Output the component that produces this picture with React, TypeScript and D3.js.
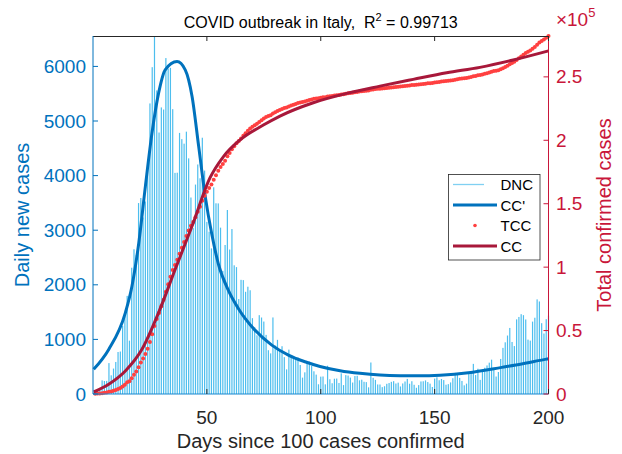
import React from "react";
import * as d3 from "d3";

// Daily new cases, day 1 .. day 200
const DNC: number[] = [
  72, 93, 78, 250, 238, 240,
  566, 342, 466, 587, 769, 778, 1247, 1492, 1797, 977, 2313, 2651, 2547, 3497, 3590, 3233, 3526, 4207, 5322, 5986, 6557, 5560, 4789, 5249, 5210, 6153, 5959, 5974, 5217, 4050, 4053,
  4782, 4668, 4585, 4805, 4316, 3599, 3039, 3836, 4204, 3951, 4694, 4092, 3153, 2972, 2667, 3786, 3493, 3491, 3047, 2256, 2729, 3370, 2646, 3021, 2357, 2324, 1739, 2091, 2086, 1872,
  1965, 1900, 1389, 1221, 1075, 1444, 1401, 1327, 1083, 802, 744, 1402, 888, 992, 789, 875, 675, 451, 813, 665, 642, 652, 669, 531, 300, 397, 584, 593, 516, 416, 355,
  178, 318, 321, 177, 518, 270, 197, 280, 283, 202, 379, 163, 346, 338, 301, 210, 329, 333, 251, 262, 224, 218, 122, 577, 296, 259, 175, 174, 126, 142,
  187, 201, 223, 235, 192, 208, 138, 193, 229, 276, 188, 234, 169, 114, 163, 230, 233, 249, 219, 190, 129, 282, 306, 252, 275, 255, 170, 181, 212, 289, 386,
  379, 295, 239, 159, 190, 384, 402, 552, 347, 463, 259, 412, 481, 523, 574, 629, 479, 320, 403, 642, 845, 947, 1071, 1210, 953, 878, 1367, 1411, 1462, 1444, 1365,
  996, 978, 1326, 1397, 1733, 1695, 1297, 1108, 1370, 1434,
];
// Total confirmed before day 1
const START_TOTAL = 157;

// Fitted derivative curve CC' (daily)
const CCP_DAYS = [0.3, 6.9, 14.2, 17.1, 20.1, 23.0, 25.9, 28.8, 31.7, 36.9, 40.5, 43.5, 46.4, 49.3, 52.1, 55.0, 59.4, 63.8, 71.1, 78.5, 85.8, 93.1, 99.7, 108.5, 117.2, 126.0, 134.8, 143.6, 152.4, 164.8, 179.5, 188.2, 198.5, 200];
const CCP_VALS = [452, 817, 1487, 1975, 2767, 3804, 4779, 5510, 5938, 6090, 5938, 5450, 4535, 3615, 2939, 2390, 1902, 1567, 1170, 896, 713, 591, 505, 426, 378, 347, 335, 333, 345, 390, 488, 549, 634, 645];

// Fitted cumulative curve CC
const CC_DAYS = [0.3, 6.9, 14.2, 21.5, 28.8, 36.1, 43.5, 51.4, 57.2, 64.5, 74.8, 82.1, 96.7, 111.4, 126.0, 140.6, 155.3, 169.9, 184.5, 200];
const CC_VALS = [1580, 7640, 18100, 35200, 64100, 98300, 132400, 170500, 187000, 200200, 212000, 219100, 229600, 237000, 242700, 248000, 253200, 257500, 263300, 270500];

const X_TICKS = [50, 100, 150, 200];
const YL_TICKS = [0, 1000, 2000, 3000, 4000, 5000, 6000];
const YR_TICKS = [0, 50000, 100000, 150000, 200000, 250000];
const YR_LABELS = ["0", "0.5", "1", "1.5", "2", "2.5"];
const LEGEND_LABELS = ["DNC", "CC'", "TCC", "CC"];

const BLUE = "#0072BD";
const BAR = "#4DBEEE";
const RED_AX = "#C9163A";
const CC_COL = "#A8183A";
const TCC_COL = "#FF4040";
const FONT = "'Liberation Sans', Arial, sans-serif";

export default function App() {
  const W = 622, H = 454;
  const L = 93, R = 548.5, T = 36, B = 394;

  const days = DNC.map((_, i) => i + 1);
  const tcc = Array.from(d3.cumsum(DNC), (v) => v + START_TOTAL);

  const x = d3.scaleLinear().domain([0, 200]).range([L, R]);
  const yL = d3.scaleLinear().domain([0, d3.max(DNC) as number]).range([B, T]);
  const yR = d3.scaleLinear().domain([0, d3.max(tcc) as number]).range([B, T]);

  const ccpLine = d3
    .line<number>()
    .x((_, i) => x(CCP_DAYS[i]))
    .y((v) => yL(v))
    .curve(d3.curveMonotoneX);
  const ccLine = d3
    .line<number>()
    .x((_, i) => x(CC_DAYS[i]))
    .y((v) => yR(v))
    .curve(d3.curveMonotoneX);

  const legY = [184.5, 205, 225.5, 246];

  return (
    <svg
      width={W}
      height={H}
      style={{ position: "absolute", left: 0, top: 0, background: "#fff" }}
      fontFamily={FONT}
    >
      <rect x={0} y={0} width={W} height={H} fill="#fff" />

      {/* bars */}
      <g>
        {DNC.map((v, i) => (
          <rect
            key={i}
            x={x(days[i]) - 0.6}
            y={yL(v)}
            width={1.2}
            height={B - yL(v)}
            fill={BAR}
          />
        ))}
      </g>

      {/* CC' */}
      <path d={ccpLine(CCP_VALS) || ""} fill="none" stroke={BLUE} strokeWidth={3} />

      {/* TCC dots */}
      <g>
        {tcc.map((v, i) => (
          <circle key={i} cx={x(days[i])} cy={yR(v)} r={2} fill={TCC_COL} />
        ))}
      </g>

      {/* CC */}
      <path d={ccLine(CC_VALS) || ""} fill="none" stroke={CC_COL} strokeWidth={3} />

      {/* axes frame */}
      <line x1={L} x2={R} y1={T + 0.5} y2={T + 0.5} stroke="#262626" strokeWidth={1} />
      <line x1={L} x2={R} y1={B} y2={B} stroke="#1a87cf" strokeWidth={1.2} />
      <line x1={L} x2={L} y1={T} y2={B} stroke={BLUE} strokeWidth={1} />
      <line x1={R} x2={R} y1={T} y2={B} stroke={RED_AX} strokeWidth={1} />

      {/* x ticks */}
      {X_TICKS.map((t) => (
        <g key={t}>
          <line x1={x(t)} x2={x(t)} y1={B} y2={B - 5} stroke="#262626" strokeWidth={1} />
          <line x1={x(t)} x2={x(t)} y1={T} y2={T + 5} stroke="#262626" strokeWidth={1} />
          <text x={x(t)} y={424} textAnchor="middle" fontSize={19} fill="#262626">
            {t}
          </text>
        </g>
      ))}

      {/* left y ticks */}
      {YL_TICKS.map((t) => (
        <g key={t}>
          <line x1={L} x2={L + 5} y1={yL(t)} y2={yL(t)} stroke={BLUE} strokeWidth={1} />
          <text x={86} y={yL(t)} textAnchor="end" dominantBaseline="central" fontSize={19} fill={BLUE}>
            {t}
          </text>
        </g>
      ))}

      {/* right y ticks */}
      {YR_TICKS.map((t, i) => (
        <g key={t}>
          <line x1={R} x2={R - 5} y1={yR(t)} y2={yR(t)} stroke={RED_AX} strokeWidth={1} />
          <text x={556} y={yR(t)} textAnchor="start" dominantBaseline="central" fontSize={19} fill={RED_AX}>
            {YR_LABELS[i]}
          </text>
        </g>
      ))}

      {/* exponent */}
      <text x={556} y={26} fontSize={19} fill={RED_AX}>×</text>
      <text x={567} y={26} fontSize={19} fill={RED_AX}>
        10<tspan fontSize={13} dy={-9}>5</tspan>
      </text>

      {/* title */}
      <text x={(L + R) / 2} y={28} textAnchor="middle" fontSize={16} fill="#000" style={{ whiteSpace: "pre" }}>
        {"COVID outbreak in Italy,  R"}
        <tspan fontSize={11} dy={-7}>2</tspan>
        <tspan dy={7}>{" = 0.99713"}</tspan>
      </text>

      {/* axis labels */}
      <text x={(L + R) / 2} y={448} textAnchor="middle" fontSize={20} fill="#262626">
        Days since 100 cases confirmed
      </text>
      <text transform={`translate(29,${(T + B) / 2}) rotate(-90)`} textAnchor="middle" fontSize={20} fill={BLUE}>
        Daily new cases
      </text>
      <text transform={`translate(611,${(T + B) / 2}) rotate(-90)`} textAnchor="middle" fontSize={20} fill={RED_AX}>
        Total confirmed cases
      </text>

      {/* legend */}
      <g>
        <rect x={448.5} y={174.5} width={91.5} height={85.5} fill="#fff" stroke="#262626" strokeWidth={0.8} />
        <line x1={453} x2={484} y1={legY[0]} y2={legY[0]} stroke="#80D0F2" strokeWidth={1.3} />
        <line x1={453} x2={497} y1={legY[1]} y2={legY[1]} stroke={BLUE} strokeWidth={3} />
        <circle cx={475} cy={legY[2]} r={1.8} fill={TCC_COL} />
        <line x1={453} x2={497} y1={legY[3]} y2={legY[3]} stroke={CC_COL} strokeWidth={3} />
        {LEGEND_LABELS.map((s, i) => (
          <text key={s} x={500.5} y={legY[i]} dominantBaseline="central" fontSize={15} fill="#000">
            {s}
          </text>
        ))}
      </g>
    </svg>
  );
}
